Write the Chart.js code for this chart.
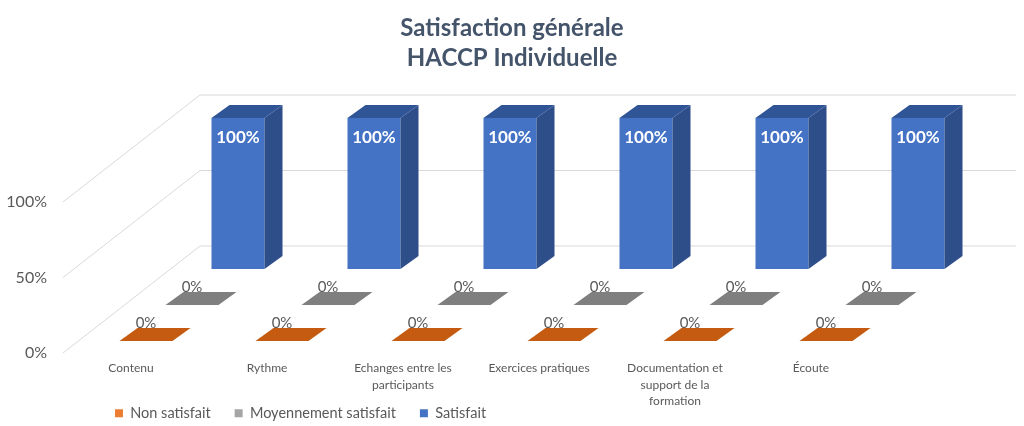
<!DOCTYPE html>
<html lang="fr">
<head>
<meta charset="utf-8">
<title>Satisfaction générale - HACCP Individuelle</title>
<script src="https://cdn.jsdelivr.net/npm/chart.js@4.4.0/dist/chart.umd.min.js"></script>
<style>
    html, body { margin: 0; padding: 0; background: #fff; }
    #wrap { width: 1024px; height: 426px; position: relative; }
</style>
</head>
<body>
<div id="wrap"><canvas id="satisfactionChart"></canvas></div>
<script>
// Données du graphique
const categories = [
    'Contenu',
    'Rythme',
    ['Echanges entre les', 'participants'],
    'Exercices pratiques',
    ['Documentation et', 'support de la', 'formation'],
    'Écoute'
];
const seriesNames = ['Non satisfait', 'Moyennement satisfait', 'Satisfait'];
const nonSatisfait = [0, 0, 0, 0, 0, 0];
const moyennementSatisfait = [0, 0, 0, 0, 0, 0];
const satisfait = [100, 100, 100, 100, 100, 100];
const yTicks = [0, 50, 100];

// Styles
const frontColors = ['#ED7D31', '#A5A5A5', '#4472C4'];
const topColors = ['#C55A11', '#7F7F7F', '#2F5597'];
const sideColors = ['#B4520F', '#737373', '#2E4E8A'];
const textColor = '#595959';
const gridColor = '#D9D9D9';

// Géométrie pseudo 3D (en pixels)
const BAR_DX = 18, BAR_DY = 13;        // profondeur d'une barre
const FRONT_DX = -61;                  // plan avant par rapport à la zone du graphique
const BACK_DX = 76, WALL_DY = 107;     // mur du fond
const PLOT_BOTTOM = 353;               // bas de la zone du graphique
const Y_LABEL_RIGHT = 51;              // bord droit des étiquettes de l'axe vertical
const LEGEND_LEFT = 91, LEGEND_TOP = 382;
const Y_MAX = 180.8;                   // étendue commune des axes verticaux
const depthShift = [7.9, 31.8, 55.6];  // décalage vertical de chaque rangée (en %)

Chart.defaults.font.family = 'Lato, "Open Sans", sans-serif';
Chart.defaults.color = textColor;

// Grille en perspective + faces supérieures / latérales + étiquettes
const depth3d = {
    id: 'depth3d',
    afterLayout(chart) {
        // titre centré sur toute la largeur, légende décalée, étiquettes non rognées
        chart.titleBlock.left = 0;
        chart.titleBlock.right = chart.width;
        const lg = chart.legend;
        const w = lg.width, h = lg.height;
        lg.left = LEGEND_LEFT; lg.right = LEGEND_LEFT + w;
        lg.top = LEGEND_TOP; lg.bottom = LEGEND_TOP + h;
        chart.scales.x.bottom = chart.height;
        chart.scales.y.right = chart.scales.y.left + Y_LABEL_RIGHT;
    },
    beforeDatasetsDraw(chart) {
        const { ctx, chartArea, scales } = chart;
        const y = scales.y;
        ctx.save();
        ctx.strokeStyle = gridColor;
        ctx.lineWidth = 1;
        y.ticks.forEach(t => {
            const py = y.getPixelForValue(t.value);
            ctx.beginPath();
            ctx.moveTo(chartArea.left + FRONT_DX, py);
            ctx.lineTo(chartArea.left + BACK_DX, py - WALL_DY);
            ctx.lineTo(chartArea.right + BACK_DX, py - WALL_DY);
            ctx.stroke();
        });
        ctx.restore();
    },
    afterDatasetsDraw(chart) {
        const ctx = chart.ctx;
        ctx.save();
        for (let d = chart.data.datasets.length - 1; d >= 0; d--) {
            const meta = chart.getDatasetMeta(d);
            meta.data.forEach(bar => {
                const { x, y, base, width } = bar.getProps(['x', 'y', 'base', 'width'], true);
                const l = x - width / 2, r = x + width / 2;
                // face latérale
                ctx.fillStyle = sideColors[d];
                ctx.beginPath();
                ctx.moveTo(r, y);
                ctx.lineTo(r + BAR_DX, y - BAR_DY);
                ctx.lineTo(r + BAR_DX, base - BAR_DY);
                ctx.lineTo(r, base);
                ctx.closePath();
                ctx.fill();
                // face supérieure
                ctx.fillStyle = topColors[d];
                ctx.beginPath();
                ctx.moveTo(l, y);
                ctx.lineTo(r, y);
                ctx.lineTo(r + BAR_DX, y - BAR_DY);
                ctx.lineTo(l + BAR_DX, y - BAR_DY);
                ctx.closePath();
                ctx.fill();
            });
        }
        // étiquettes de données
        ctx.textAlign = 'center';
        ctx.textBaseline = 'middle';
        chart.data.datasets.forEach((ds, d) => {
            const meta = chart.getDatasetMeta(d);
            meta.data.forEach((bar, i) => {
                const v = ds.data[i];
                const { x, y } = bar.getProps(['x', 'y'], true);
                if (v > 0) {
                    ctx.fillStyle = '#FFFFFF';
                    ctx.font = 'bold 17px Lato, "Open Sans", sans-serif';
                    ctx.fillText(v + '%', x, y + 19);
                } else {
                    ctx.fillStyle = textColor;
                    ctx.font = '15px Lato, "Open Sans", sans-serif';
                    ctx.fillText(v + '%', x, y - 18);
                }
            });
        });
        ctx.restore();
    }
};

function hiddenAxis(shift) {
    return { display: false, min: -shift, max: Y_MAX - shift };
}

const ctx = document.getElementById('satisfactionChart').getContext('2d');
new Chart(ctx, {
    type: 'bar',
    data: {
        labels: categories,
        datasets: [nonSatisfait, moyennementSatisfait, satisfait].map((values, i) => ({
            label: seriesNames[i],
            data: values,
            backgroundColor: frontColors[i],
            borderWidth: 0,
            clip: false,
            yAxisID: 'y' + i,
            categoryPercentage: 138 / 136,
            barPercentage: 53 / 46
        }))
    },
    options: {
        responsive: true,
        maintainAspectRatio: false,
        animation: false,
        layout: { padding: { left: 0, right: 84, top: 0, bottom: 0 } },
        plugins: {
            title: {
                display: true,
                text: ['Satisfaction générale', 'HACCP Individuelle'],
                color: '#44546A',
                font: { size: 24, weight: 'bold', lineHeight: 1.25 },
                padding: { top: 13, bottom: 7 }
            },
            legend: {
                position: 'bottom',
                align: 'start',
                labels: {
                    boxWidth: 8,
                    boxHeight: 8,
                    padding: 24,
                    color: textColor,
                    font: { size: 14.5 }
                }
            },
            tooltip: { enabled: false }
        },
        scales: {
            x: {
                grid: { display: false, drawTicks: false },
                border: { display: false },
                ticks: {
                    autoSkip: false,
                    maxRotation: 0,
                    labelOffset: FRONT_DX,
                    padding: 7,
                    color: textColor,
                    font: { size: 12, lineHeight: 1.38 }
                },
                afterFit: scale => {
                    scale.height = scale.chart.height - scale.chart.legend.height - PLOT_BOTTOM;
                }
            },
            y: {
                position: 'left',
                min: 0,
                max: Y_MAX,
                grid: { display: false, drawTicks: false },
                border: { display: false },
                ticks: {
                    padding: 4,
                    color: textColor,
                    font: { size: 16 },
                    callback: v => v + '%'
                },
                afterBuildTicks: scale => { scale.ticks = yTicks.map(v => ({ value: v })); },
                afterFit: scale => { scale.width = 124; }
            },
            y0: hiddenAxis(depthShift[0]),
            y1: hiddenAxis(depthShift[1]),
            y2: hiddenAxis(depthShift[2])
        }
    },
    plugins: [depth3d]
});
</script>
</body>
</html>
